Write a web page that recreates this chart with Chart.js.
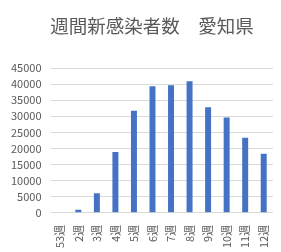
<!DOCTYPE html>
<html>
<head>
<meta charset="utf-8">
<script src="https://cdn.jsdelivr.net/npm/chart.js@4/dist/chart.umd.min.js"></script>
<style>
  html, body { margin: 0; padding: 0; background: #fff; }
  #wrap { width: 281px; height: 252px; }
</style>
</head>
<body>
<div id="wrap"><canvas id="weeklyChart"></canvas></div>
<script>
var weeks = ["53週", "2週", "3週", "4週", "5週", "6週", "7週", "8週", "9週", "10週", "11週", "12週"];
var newCases = [0, 950, 6050, 18900, 31700, 39300, 39600, 40850, 32800, 29650, 23350, 18350];
var yTicks = [0, 5000, 10000, 15000, 20000, 25000, 30000, 35000, 40000, 45000];
var titleText = "週間新感染者数　愛知県";

var font = "'Noto Sans CJK JP', 'Noto Sans', sans-serif";

// title drawn by hand so it can sit a bit right of centre, like the original
var titlePlugin = {
    id: 'offsetTitle',
    afterDraw: function (chart) {
        var c = chart.ctx;
        c.save();
        c.fillStyle = "#595959";
        c.font = "18.5px " + font;
        c.textAlign = "center";
        c.textBaseline = "middle";
        c.fillText(titleText, 152, 26);
        c.restore();
    }
};

var ctx = document.getElementById("weeklyChart");
var myChart = new Chart(ctx, {
    type: 'bar',
    data: {
        labels: weeks,
        datasets: [{
            data: newCases,
            backgroundColor: "#4472C4",
            barPercentage: 0.62,
            categoryPercentage: 0.52
        }]
    },
    options: {
        responsive: true,
        maintainAspectRatio: false,
        animation: false,
        layout: { padding: { left: 2, right: 2, top: 68, bottom: 0 } },
        plugins: {
            legend: { display: false },
            tooltip: { enabled: false },
            title: { display: false }
        },
        scales: {
            x: {
                grid: { display: false },
                border: { display: false },
                ticks: {
                    color: "#595959",
                    font: { family: font, size: 11 },
                    minRotation: 90,
                    maxRotation: 90,
                    autoSkip: false,
                    padding: 4
                }
            },
            y: {
                min: 0,
                max: 45000,
                afterBuildTicks: function (axis) {
                    axis.ticks = yTicks.map(function (v) { return { value: v }; });
                },
                grid: { color: "#d9d9d9", drawTicks: false },
                border: { display: false },
                ticks: {
                    color: "#595959",
                    font: { family: font, size: 11 },
                    autoSkip: false,
                    padding: 9,
                    callback: function (value) { return String(value); }
                }
            }
        }
    },
    plugins: [titlePlugin]
});
</script>
</body>
</html>
